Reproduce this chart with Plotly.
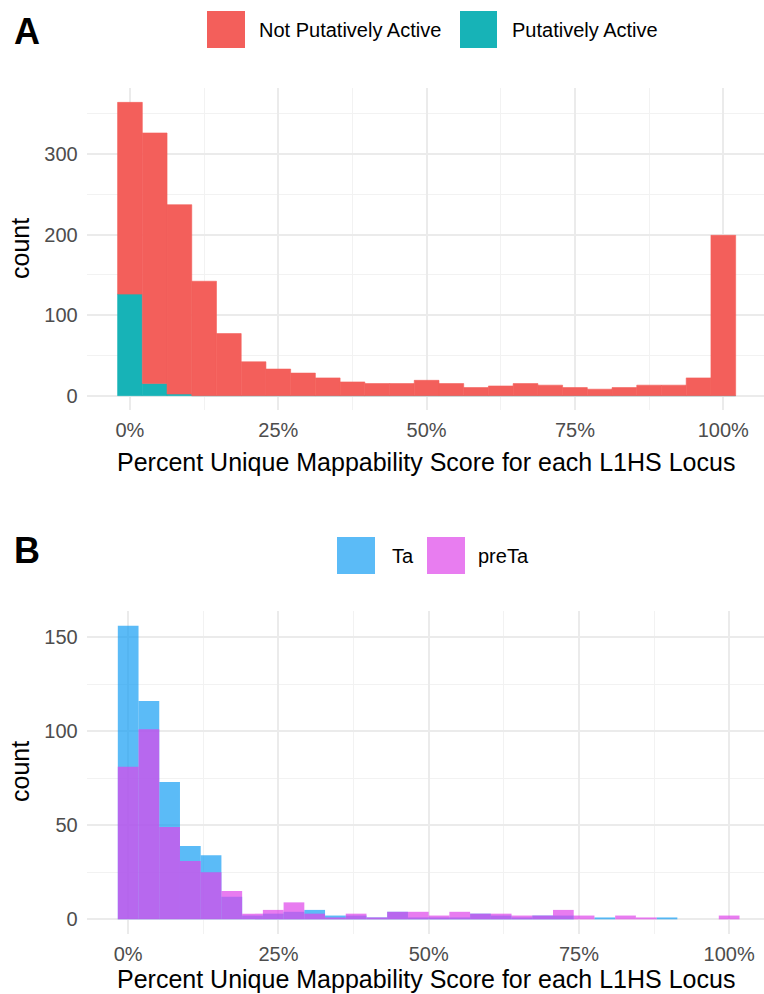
import numpy as np
import plotly.graph_objects as go

# ---------------- data ----------------
# Panel A: 25 bins spanning 0%..100% (percent unique mappability)
a_bin_count = 25
a_not_active = [238, 311, 235, 142, 77, 42, 33, 28, 22, 17, 15, 15, 19, 15, 10, 12, 15, 13, 10, 8, 10, 13, 13, 22, 199]
a_active = [126, 15, 2, 0, 0, 0, 0, 0, 0, 0, 0, 0, 0, 0, 0, 0, 0, 0, 0, 0, 0, 0, 0, 0, 0]

# Panel B: 30 bins spanning 0%..100%
b_bin_count = 30
b_ta = [156, 116, 73, 39, 34, 12, 2, 3, 4, 5, 2, 2, 1, 4, 1, 1, 1, 3, 2, 1, 2, 2, 0, 1, 0, 0, 1, 0, 0, 0]
b_preta = [81, 101, 49, 31, 25, 15, 3, 5, 9, 3, 1, 3, 1, 4, 4, 2, 4, 3, 3, 2, 2, 5, 2, 0, 2, 1, 0, 0, 0, 2]

x_ticks = [0, 25, 50, 75, 100]
a_y_ticks = [0, 100, 200, 300]
b_y_ticks = [0, 50, 100, 150]

a_labels = ["Not Putatively Active", "Putatively Active"]
b_labels = ["Ta", "preTa"]
x_title = "Percent Unique Mappability Score for each L1HS Locus"
y_title = "count"

# ---------------- styling ----------------
W, H = 764, 994
FONT = "Liberation Sans, Arial, Helvetica, sans-serif"
RED = "#F35F5B"
TEAL = "#17B3B7"
TA_C = "rgba(21,158,244,0.7)"
PRETA_C = "rgba(222,69,234,0.7)"
TA_LEG = "#5BBBF7"
PRETA_LEG = "#E87DF0"

def px(x):
    return x / W

def py(y):
    return 1 - y / H

a_w = 100.0 / (a_bin_count - 1)
b_w = 100.0 / (b_bin_count - 1)
a_centers = np.arange(a_bin_count) * a_w
b_centers = np.arange(b_bin_count) * b_w

fig = go.Figure()

# Panel A (stacked via base)
fig.add_trace(go.Bar(x=a_centers, y=a_active, width=a_w, marker=dict(color=TEAL, line=dict(width=0.6, color=TEAL)),
                     name=a_labels[1], showlegend=False, xaxis="x", yaxis="y"))
fig.add_trace(go.Bar(x=a_centers, y=a_not_active, base=a_active, width=a_w,
                     marker=dict(color=RED, line=dict(width=0.6, color=RED)),
                     name=a_labels[0], showlegend=False, xaxis="x", yaxis="y"))

# Panel B (overlaid, semi-transparent)
fig.add_trace(go.Bar(x=b_centers, y=b_ta, width=b_w, marker=dict(color=TA_C, line=dict(width=0)),
                     name=b_labels[0], showlegend=False, xaxis="x2", yaxis="y2"))
fig.add_trace(go.Bar(x=b_centers, y=b_preta, width=b_w, marker=dict(color=PRETA_C, line=dict(width=0)),
                     name=b_labels[1], showlegend=False, xaxis="x2", yaxis="y2"))

grid_major = "#EBEBEB"
grid_minor = "#F2F2F2"
tickfont = dict(family=FONT, size=20, color="#4D4D4D")

def xaxis(domain, rng, anchor):
    return dict(domain=domain, range=rng, anchor=anchor, tickvals=x_ticks,
                ticktext=[f"{v}%" for v in x_ticks], showline=False, zeroline=False,
                ticks="", showgrid=True, gridcolor=grid_major, gridwidth=2,
                minor=dict(tick0=12.5, dtick=25, showgrid=True, gridcolor=grid_minor, gridwidth=1),
                tickfont=tickfont, ticklabelstandoff=6, fixedrange=True)

def yaxis(domain, rng, anchor, ticks, minor_dt):
    return dict(domain=domain, range=rng, anchor=anchor, tickvals=ticks,
                showline=False, zeroline=False, ticks="", showgrid=True,
                gridcolor=grid_major, gridwidth=2,
                minor=dict(tick0=minor_dt, dtick=2 * minor_dt, showgrid=True, gridcolor=grid_minor, gridwidth=1),
                tickfont=tickfont, ticklabelstandoff=8, fixedrange=True)

a_dom_x = [px(86.7), 1.0]
a_dom_y = [py(410.3), py(87.7)]
b_dom_y = [py(934.0), py(611.0)]

a_ymax = max(np.array(a_active) + np.array(a_not_active))
b_ymax = max(max(b_ta), max(b_preta))

fig.update_layout(
    width=W, height=H, autosize=False,
    margin=dict(l=0, r=0, t=0, b=0),
    paper_bgcolor="white", plot_bgcolor="white",
    barmode="overlay",
    font=dict(family=FONT, color="black"),
    xaxis=xaxis(a_dom_x, [-7.29, 106.86], "y"),
    yaxis=yaxis(a_dom_y, [-0.05 * a_ymax, 1.05 * a_ymax], "x", a_y_ticks, 50),
    xaxis2=xaxis(a_dom_x, [-6.9, 105.8], "y2"),
    yaxis2=yaxis(b_dom_y, [-0.05 * b_ymax, 1.05 * b_ymax], "x2", b_y_ticks, 25),
)

shapes = []
annotations = []

def add_text(x, y, text, size, bold=False, xanchor="center", angle=0, color="black"):
    annotations.append(dict(x=px(x), y=py(y), xref="paper", yref="paper", text=f"<b>{text}</b>" if bold else text,
                            showarrow=False, xanchor=xanchor, yanchor="middle", textangle=angle,
                            font=dict(family=FONT, size=size, color=color)))

def add_swatch(x0, y0, x1, y1, color):
    shapes.append(dict(type="rect", xref="paper", yref="paper", x0=px(x0), x1=px(x1), y0=py(y1), y1=py(y0),
                       fillcolor=color, line=dict(width=0)))

# Panel labels
add_text(27, 31, "A", 36, bold=True)
add_text(27, 550, "B", 36, bold=True)

# Legend A
add_swatch(207, 11, 245, 48, RED)
add_text(257, 30, a_labels[0], 20, xanchor="left")
add_swatch(460, 11, 497, 48, TEAL)
add_text(510, 30, a_labels[1], 20, xanchor="left")

# Legend B
add_swatch(337, 537, 375, 574, TA_LEG)
add_text(390, 556, b_labels[0], 20, xanchor="left")
add_swatch(427, 537, 465, 574, PRETA_LEG)
add_text(476, 556, b_labels[1], 20, xanchor="left")

# Axis titles
add_text(426, 462, x_title, 25)
add_text(426, 979, x_title, 25)
add_text(20, 249, y_title, 25, angle=-90)
add_text(20, 772, y_title, 25, angle=-90)

fig.update_layout(shapes=shapes, annotations=annotations)

fig.write_html("out.html")
